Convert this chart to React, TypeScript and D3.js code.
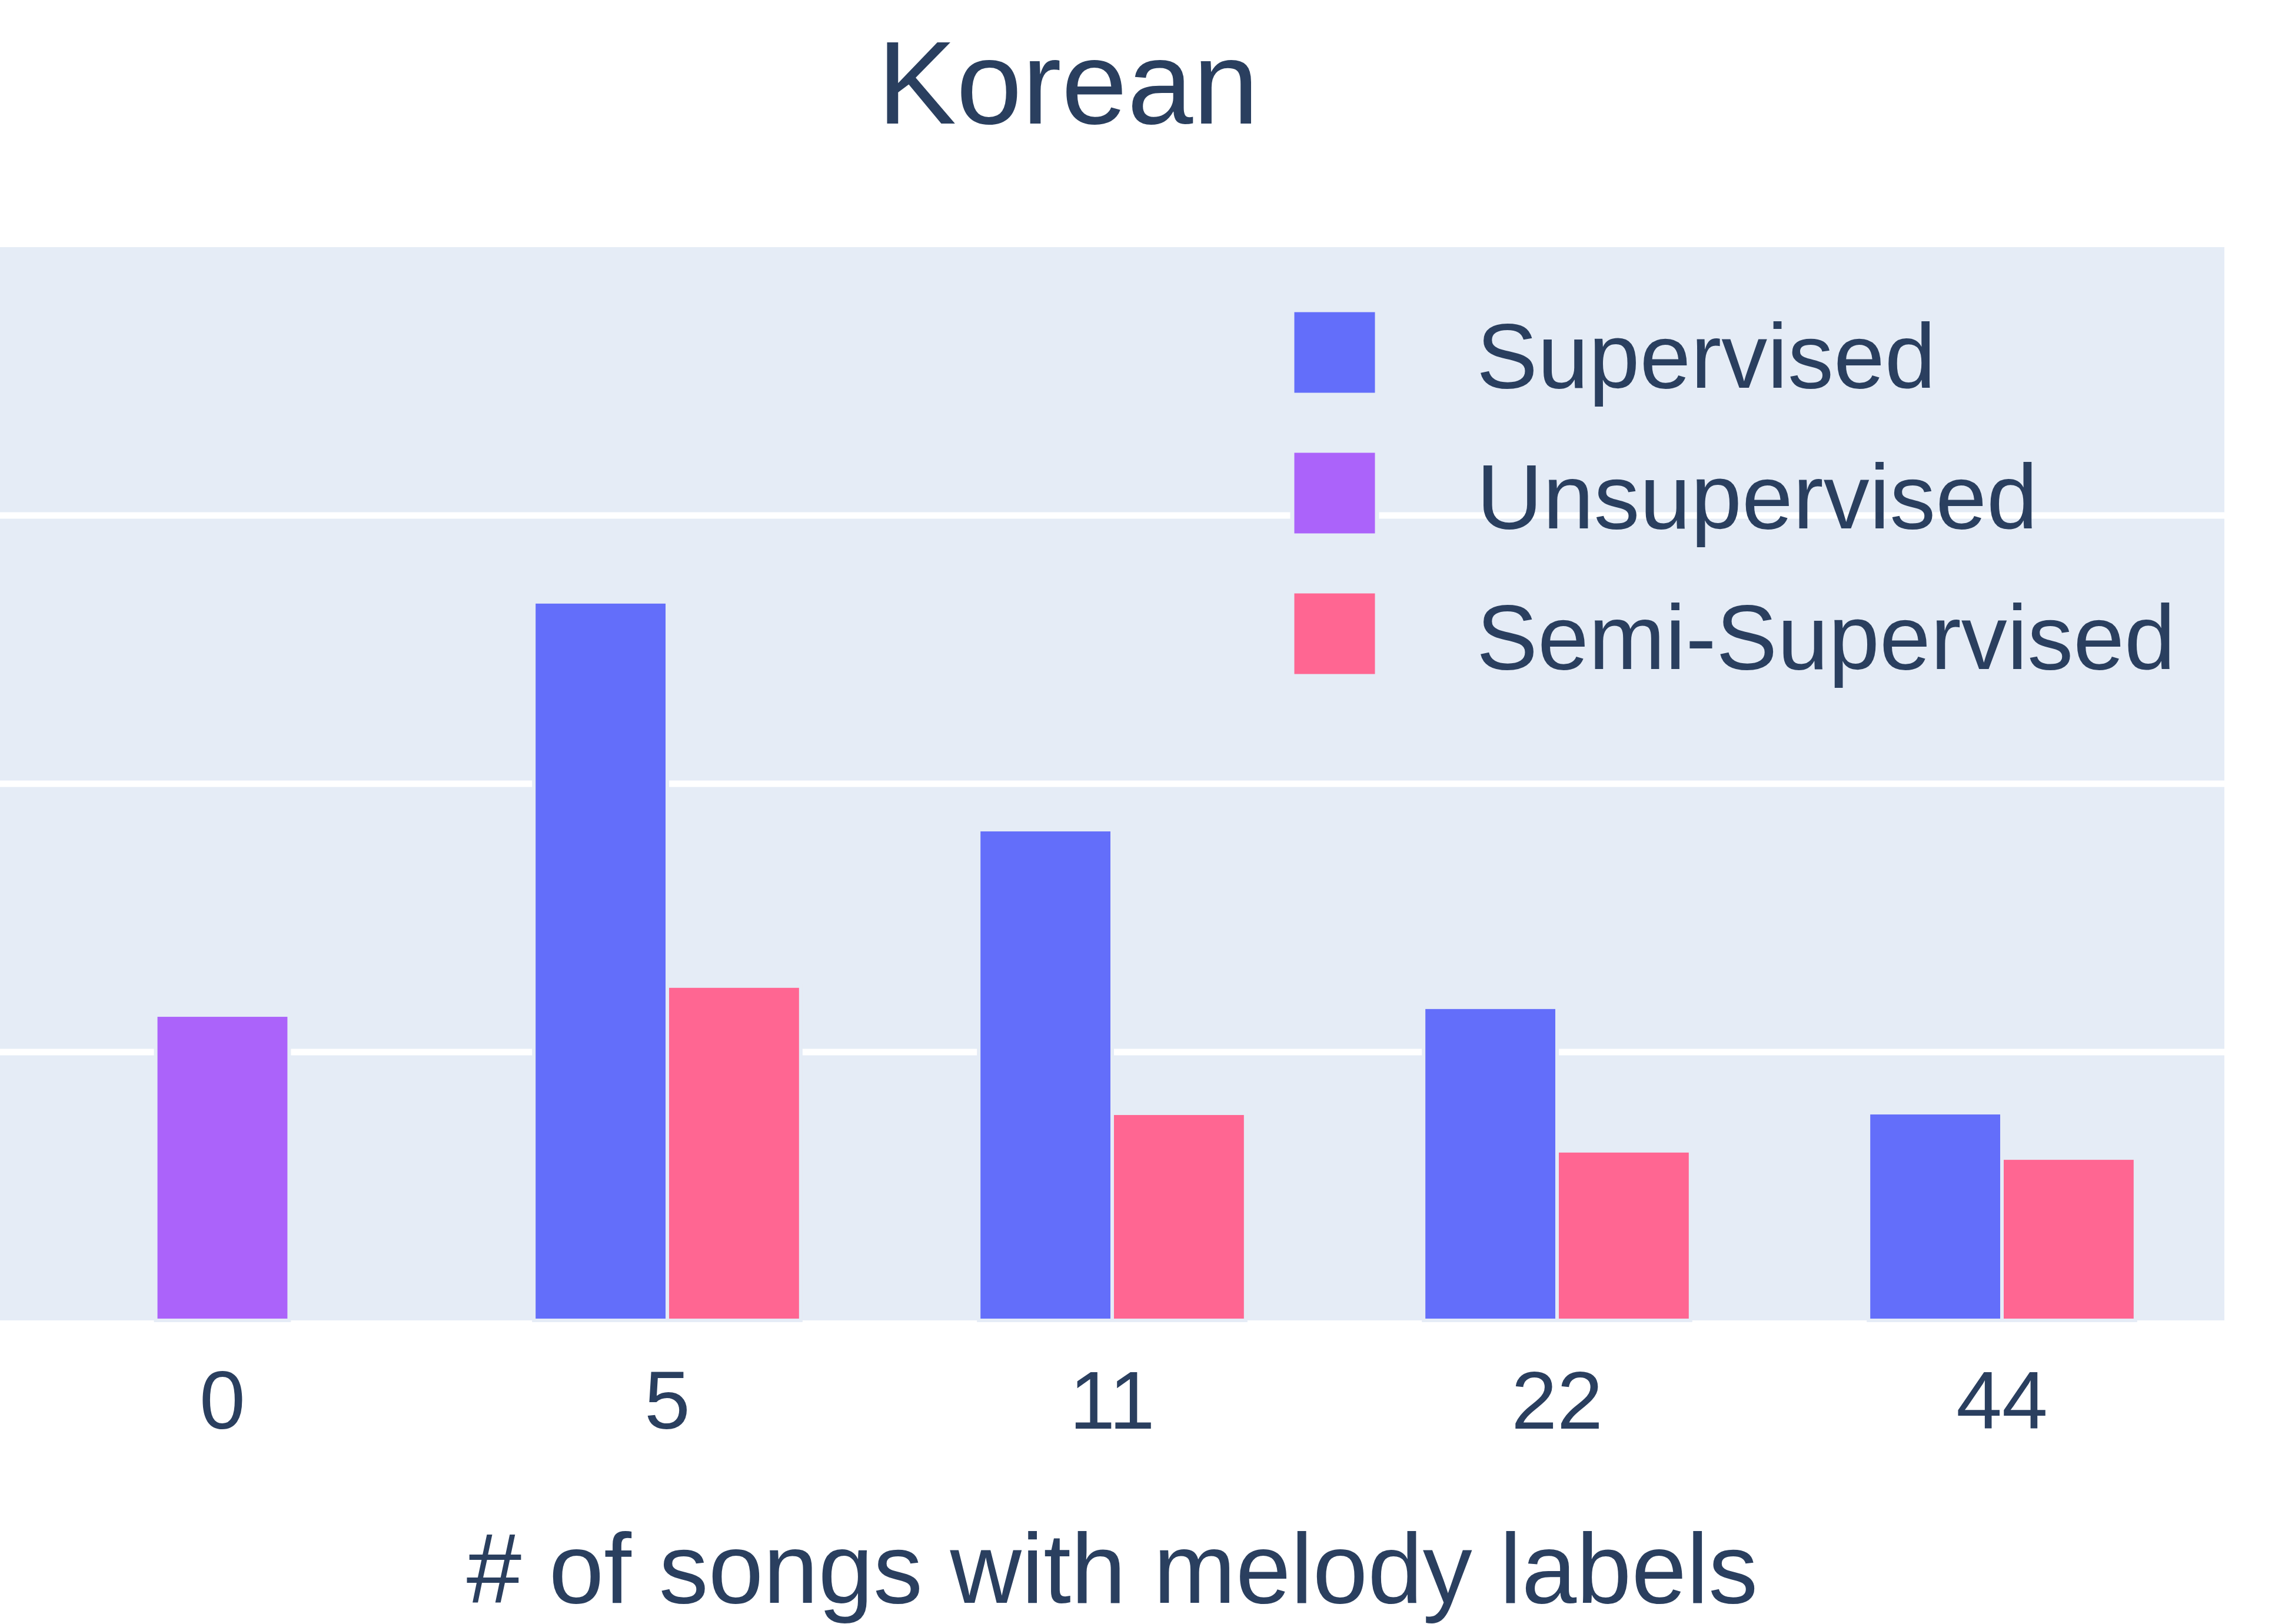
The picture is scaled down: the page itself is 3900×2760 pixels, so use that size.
import React from 'react';
import * as d3 from 'd3';

const categories = ['0', '5', '11', '22', '44'];
const seriesNames = ['Supervised', 'Unsupervised', 'Semi-Supervised'];
const supervised = [null, 26.78, 18.29, 11.67, 7.74];
const unsupervised = [11.38, null, null, null, null];
const semiSupervised = [null, 12.46, 7.72, 6.32, 6.05];
const gridTicks = [10, 20, 30];

const colors: Record<string, string> = {
  Supervised: '#636efa',
  Unsupervised: '#ab63fa',
  'Semi-Supervised': '#ff6692',
};

const W = 3900;
const H = 2760;
const plot = { left: 0, right: 3780, top: 420, bottom: 2244 };
const bg = '#e5ecf6';
const ink = '#2a3f5f';
const font = '"Liberation Sans", Arial, sans-serif';

export default function App() {
  const x = d3.scaleBand<string>()
    .domain(categories)
    .range([plot.left, plot.right])
    .paddingInner(0.4)
    .paddingOuter(0.2);

  const pair = d3.scaleBand<string>()
    .domain(['Supervised', 'Semi-Supervised'])
    .range([0, x.bandwidth()]);

  const y = d3.scaleLinear().domain([0, 40]).range([plot.bottom, plot.top]);

  const bars: { key: string; name: string; x: number; w: number; v: number }[] = [];
  categories.forEach((c, i) => {
    const x0 = x(c) as number;
    if (supervised[i] != null) {
      bars.push({ key: 'sup' + c, name: 'Supervised', x: x0 + (pair('Supervised') as number), w: pair.bandwidth(), v: supervised[i] as number });
    }
    if (semiSupervised[i] != null) {
      bars.push({ key: 'semi' + c, name: 'Semi-Supervised', x: x0 + (pair('Semi-Supervised') as number), w: pair.bandwidth(), v: semiSupervised[i] as number });
    }
    if (unsupervised[i] != null) {
      bars.push({ key: 'uns' + c, name: 'Unsupervised', x: x0 + x.bandwidth() / 2 - pair.bandwidth() / 2, w: pair.bandwidth(), v: unsupervised[i] as number });
    }
  });

  return (
    <svg width={W} height={H} style={{ position: 'absolute', left: 0, top: 0, display: 'block' }}>
      <rect x={0} y={0} width={W} height={H} fill="#fff" />
      <rect x={plot.left} y={plot.top} width={plot.right - plot.left} height={plot.bottom - plot.top} fill={bg} />
      {gridTicks.map((t) => (
        <line key={t} x1={plot.left} x2={plot.right} y1={y(t)} y2={y(t)} stroke="#fff" strokeWidth={11} />
      ))}
      {bars.map((b) => (
        <rect key={b.key} x={b.x} y={y(b.v)} width={b.w} height={y(0) - y(b.v)}
          fill={colors[b.name]} stroke={bg} strokeWidth={6} />
      ))}

      <text x={1815} y={210} textAnchor="middle" fontFamily={font} fontSize={201} fill={ink}>Korean</text>

      {categories.map((c) => (
        <text key={c} x={(x(c) as number) + x.bandwidth() / 2} y={2428} textAnchor="middle"
          fontFamily={font} fontSize={140} fill={ink}>{c}</text>
      ))}

      <text x={(plot.left + plot.right) / 2} y={2724} textAnchor="middle" fontFamily={font} fontSize={168} fill={ink}>
        # of songs with melody labels
      </text>

      {seriesNames.map((n, i) => (
        <g key={n} transform={`translate(0,${i * 239})`}>
          <rect x={2196} y={527} width={144} height={144} fill={colors[n]} stroke={bg} strokeWidth={7} />
          <text x={2509} y={659} fontFamily={font} fontSize={156} fill={ink}>{n}</text>
        </g>
      ))}
    </svg>
  );
}
